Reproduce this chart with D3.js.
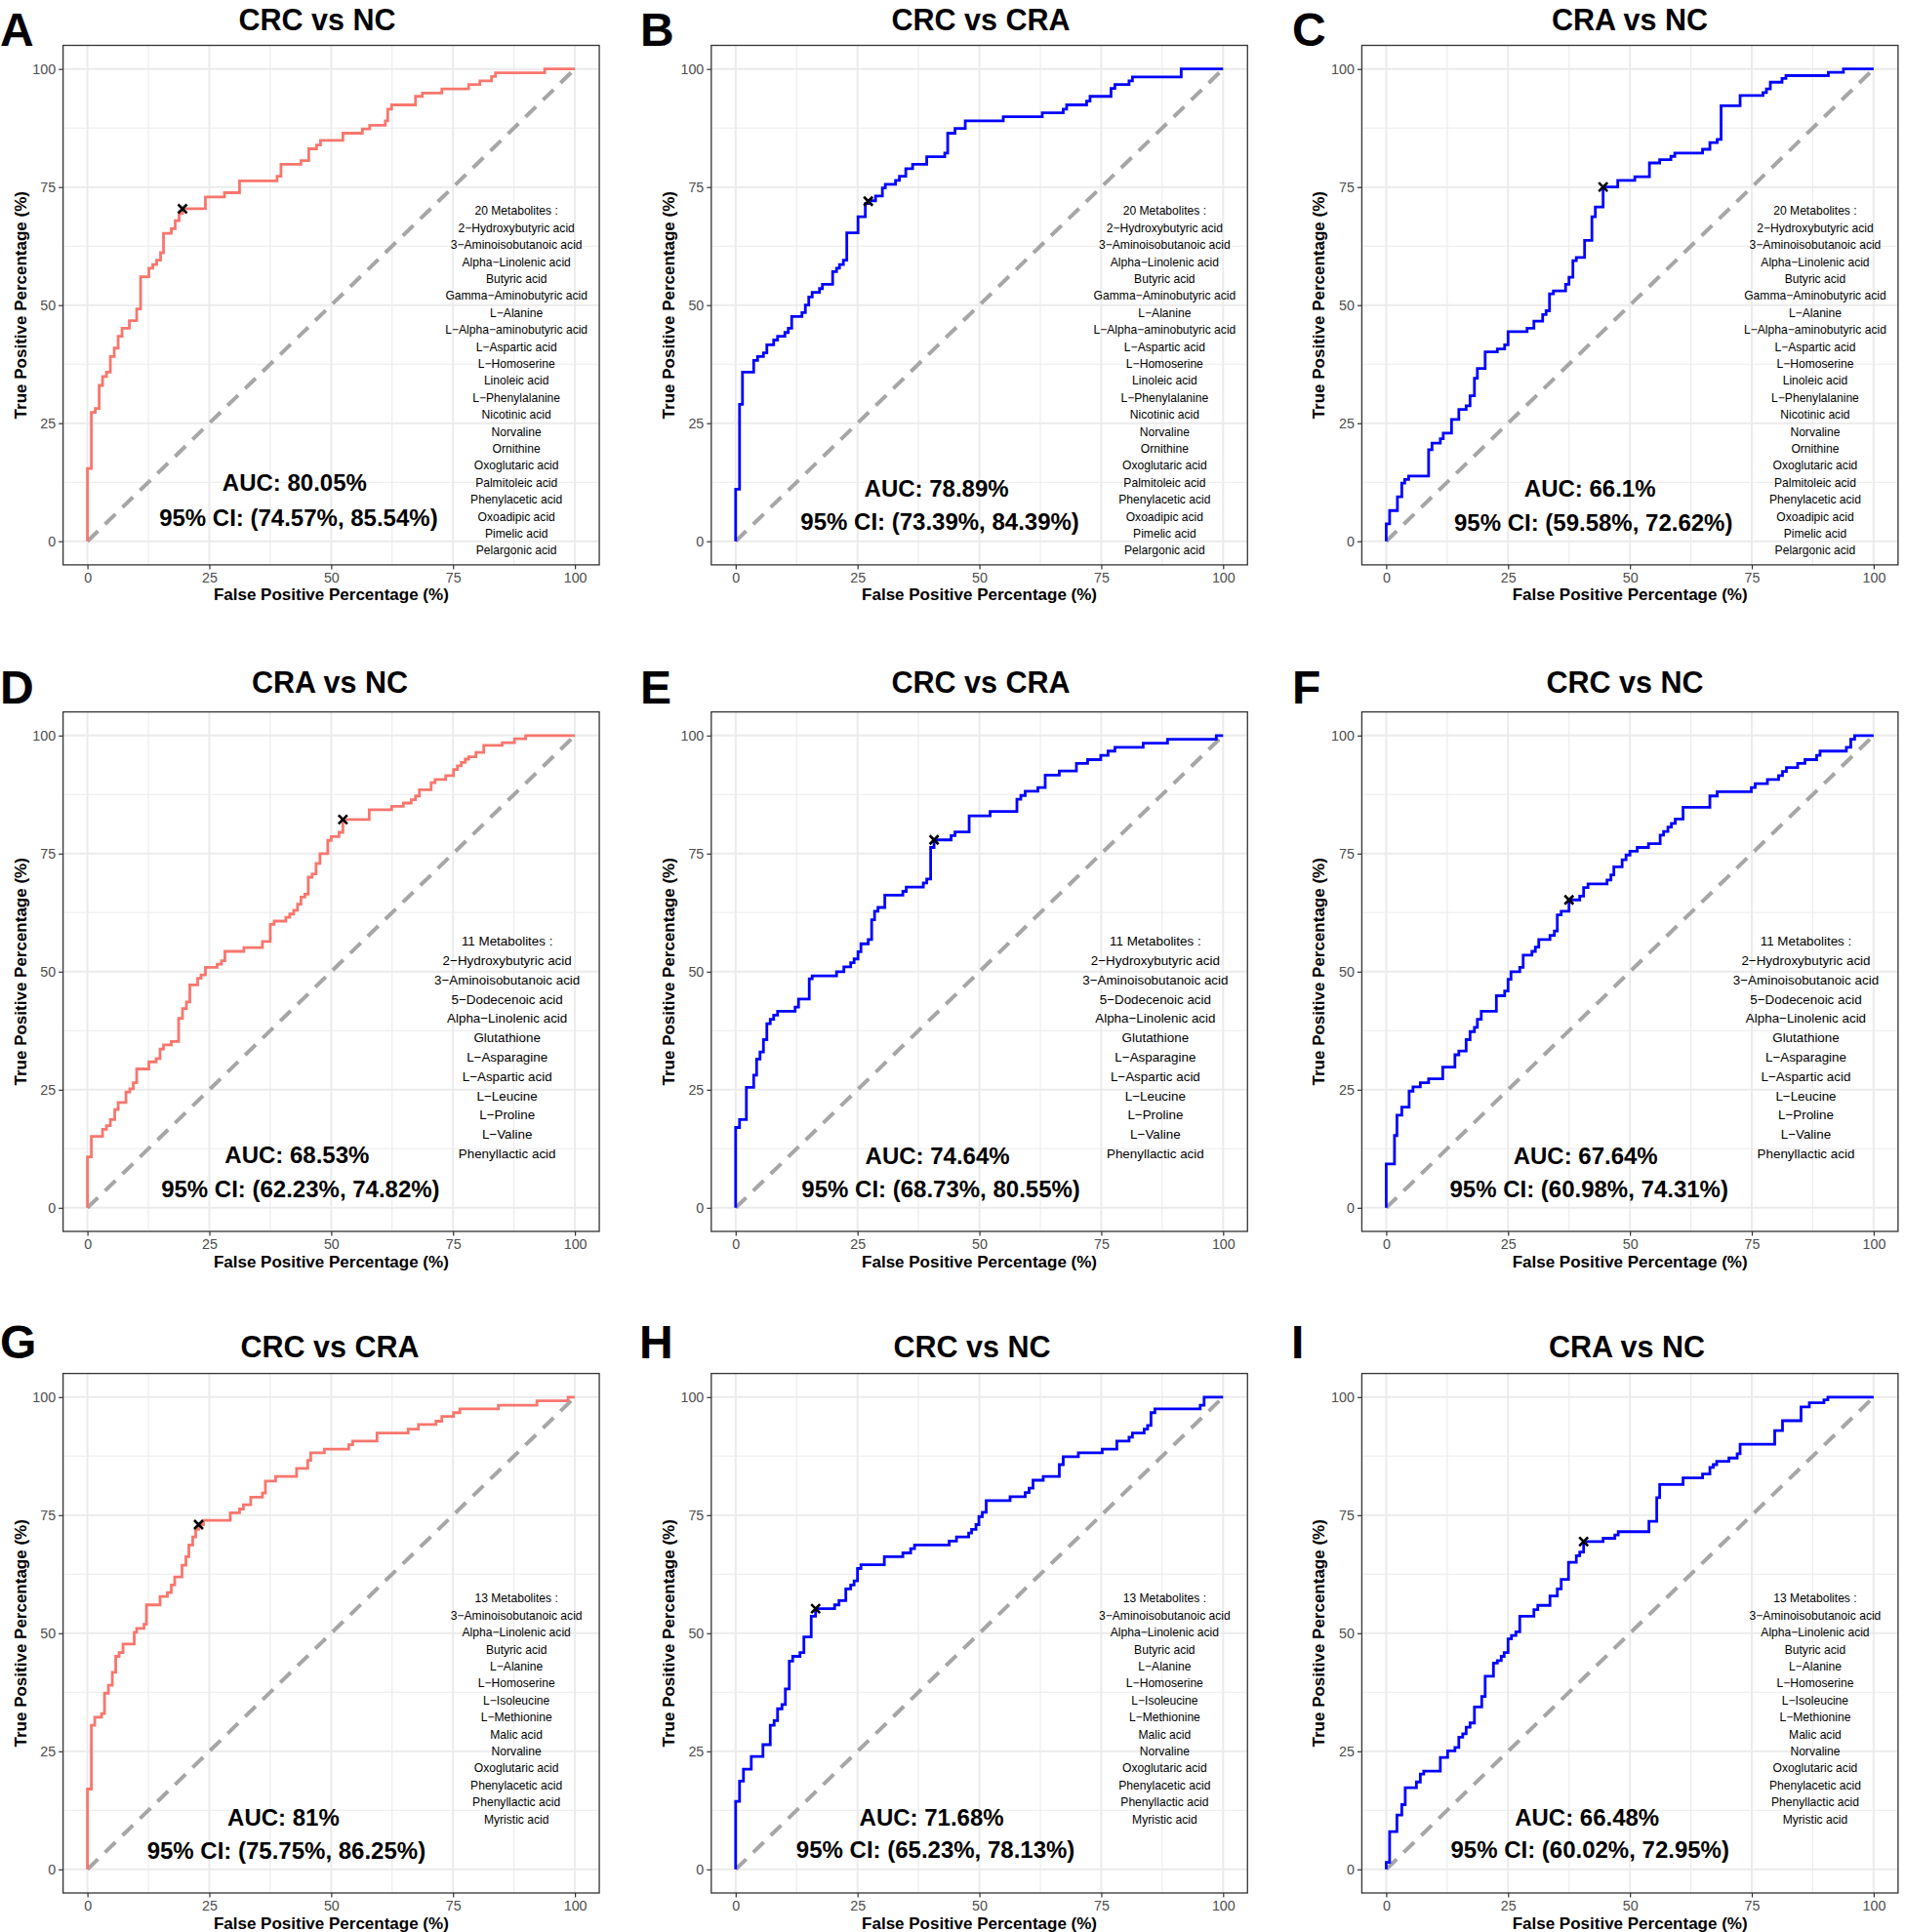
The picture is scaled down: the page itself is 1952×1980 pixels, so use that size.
<!DOCTYPE html>
<html>
<head>
<meta charset="utf-8">
<script src="https://cdn.jsdelivr.net/npm/d3@7"></script>
<style>
  body { margin: 0; background: #fff; }
  svg { display: block; }
</style>
</head>
<body>
<script>
// ---- data ----
const letters = ["A", "B", "C", "D", "E", "F", "G", "H", "I"];
const titles = ["CRC vs NC", "CRC vs CRA", "CRA vs NC",
                "CRA vs NC", "CRC vs CRA", "CRC vs NC",
                "CRC vs CRA", "CRC vs NC", "CRA vs NC"];
const aucLabels = ["AUC: 80.05%", "AUC: 78.89%", "AUC: 66.1%",
                   "AUC: 68.53%", "AUC: 74.64%", "AUC: 67.64%",
                   "AUC: 81%", "AUC: 71.68%", "AUC: 66.48%"];
const ciLabels = ["95% CI: (74.57%, 85.54%)", "95% CI: (73.39%, 84.39%)", "95% CI: (59.58%, 72.62%)",
                  "95% CI: (62.23%, 74.82%)", "95% CI: (68.73%, 80.55%)", "95% CI: (60.98%, 74.31%)",
                  "95% CI: (75.75%, 86.25%)", "95% CI: (65.23%, 78.13%)", "95% CI: (60.02%, 72.95%)"];
const lineColors = ["#F8766D", "#0000FF", "#0000FF",
                    "#F8766D", "#0000FF", "#0000FF",
                    "#F8766D", "#0000FF", "#0000FF"];

const metabolites20 = ["20 Metabolites :", "2−Hydroxybutyric acid", "3−Aminoisobutanoic acid",
  "Alpha−Linolenic acid", "Butyric acid", "Gamma−Aminobutyric acid", "L−Alanine",
  "L−Alpha−aminobutyric acid", "L−Aspartic acid", "L−Homoserine", "Linoleic acid",
  "L−Phenylalanine", "Nicotinic acid", "Norvaline", "Ornithine", "Oxoglutaric acid",
  "Palmitoleic acid", "Phenylacetic acid", "Oxoadipic acid", "Pimelic acid", "Pelargonic acid"];
const metabolites11 = ["11 Metabolites :", "2−Hydroxybutyric acid", "3−Aminoisobutanoic acid",
  "5−Dodecenoic acid", "Alpha−Linolenic acid", "Glutathione", "L−Asparagine",
  "L−Aspartic acid", "L−Leucine", "L−Proline", "L−Valine", "Phenyllactic acid"];
const metabolites13 = ["13 Metabolites :", "3−Aminoisobutanoic acid", "Alpha−Linolenic acid",
  "Butyric acid", "L−Alanine", "L−Homoserine", "L−Isoleucine", "L−Methionine",
  "Malic acid", "Norvaline", "Oxoglutaric acid", "Phenylacetic acid",
  "Phenyllactic acid", "Myristic acid"];
const panelMetabolites = [metabolites20, metabolites20, metabolites20,
                          metabolites11, metabolites11, metabolites11,
                          metabolites13, metabolites13, metabolites13];

// best cut-off points (FPR %, TPR %)
const cutoffs = [[19.5, 70.4], [27.2, 72.0], [44.5, 75.0],
                 [52.4, 82.2], [40.7, 77.9], [37.5, 65.2],
                 [22.8, 73.0], [16.4, 55.2], [40.5, 69.4]];

// ROC steps: at FPR x the TPR rises to y (both %)
const rocA = [[0,15.4],[0.8,27.3],[1.6,28.1],[2.4,33.0],[3.1,34.9],[3.9,35.8],[4.7,39.1],[5.5,40.9],
  [6.3,43.4],[7.1,45.1],[8.6,46.7],[10.1,49.2],[10.9,56.0],[12.6,57.8],[13.4,58.6],[14.2,59.5],
  [15.0,61.1],[15.6,65.2],[17.2,66.2],[18.0,67.9],[18.8,69.4],[19.5,70.4],[24.2,72.9],[28.1,73.8],
  [31.2,76.3],[38.9,77.3],[39.7,79.8],[43.8,80.6],[45.4,83.1],[47.0,83.9],[47.8,84.9],[52.4,86.4],
  [56.4,87.3],[57.9,88.1],[61.1,89.0],[61.6,91.5],[62.4,92.4],[67.3,94.2],[68.7,94.9],[72.7,95.8],
  [78.2,96.7],[80.5,97.5],[82.9,98.4],[83.7,99.2],[93.8,100],[100,100]];
const rocB = [[0,11.0],[0.8,29.0],[1.4,35.8],[3.7,38.3],[4.5,39.1],[5.7,39.9],[6.4,41.6],[7.8,42.6],
  [8.6,43.4],[10.1,44.2],[10.8,45.1],[11.5,47.6],[13.6,48.4],[14.3,50.0],[15.0,51.7],[15.7,52.7],
  [17.2,53.5],[17.8,54.4],[19.9,57.1],[20.7,57.8],[21.3,58.6],[22.1,59.5],[22.8,65.3],[25.1,68.7],
  [26.6,71.5],[27.2,72.1],[28.7,73.1],[30.1,74.8],[30.7,75.6],[32.8,76.4],[33.6,77.3],[34.9,78.9],
  [36.3,79.8],[39.2,81.4],[42.9,82.2],[43.5,86.4],[45.0,87.4],[47.1,89.0],[54.9,89.9],[62.9,90.7],
  [67.2,91.5],[67.9,92.4],[72.0,93.2],[72.7,94.2],[77.0,95.9],[77.8,96.7],[80.7,97.5],[81.4,98.3],
  [91.4,100],[100,100]];
const rocC = [[0,3.7],[0.7,6.5],[2.3,9.4],[3.2,12.3],[3.8,13.1],[4.6,13.8],[8.7,19.4],[9.4,20.8],
  [11.1,21.7],[11.7,22.9],[13.4,25.8],[14.9,27.9],[16.4,28.7],[17.2,30.8],[18.1,34.5],[18.7,36.6],
  [20.3,40.1],[22.8,40.7],[24.3,41.6],[25.0,44.4],[28.9,45.1],[30.3,46.6],[32.1,48.0],[32.8,48.8],
  [33.5,52.4],[34.3,53.0],[36.8,54.4],[37.5,55.9],[38.3,59.4],[39.0,60.1],[40.7,63.7],[42.2,68.7],
  [42.9,70.8],[44.5,75.0],[47.5,76.4],[51.0,77.2],[54.0,80.1],[56.1,80.8],[58.4,81.5],[59.2,82.2],
  [64.9,83.0],[66.4,84.4],[67.9,85.1],[68.7,92.2],[72.6,94.4],[77.3,95.0],[78.0,95.8],[78.8,97.2],
  [81.2,98.0],[82.0,98.6],[90.7,99.3],[93.8,100],[100,100]];
const rocD = [[0,10.8],[0.8,15.1],[3.1,16.6],[3.9,17.4],[4.7,18.7],[5.6,20.8],[6.3,22.3],[7.9,24.5],
  [8.7,25.2],[9.4,26.5],[10.1,29.4],[12.6,30.9],[14.1,31.6],[14.9,33.6],[15.6,34.5],[17.2,35.2],
  [18.7,40.1],[19.5,42.2],[20.3,43.6],[21.0,47.2],[22.6,48.6],[23.3,49.3],[24.2,50.9],[26.6,51.6],
  [27.5,52.3],[28.2,54.3],[32.1,55.1],[35.9,56.4],[37.5,60.0],[38.3,60.7],[40.7,61.5],[41.5,62.2],
  [42.3,63.0],[43.1,64.3],[43.8,65.8],[44.6,66.4],[45.3,70.0],[46.1,70.7],[46.9,72.9],[47.7,75.0],
  [49.3,77.8],[50.0,78.6],[51.6,79.5],[52.4,82.2],[57.8,84.3],[62.4,85.0],[64.8,85.7],[66.4,86.4],
  [67.3,87.2],[68.1,88.5],[70.5,90.0],[71.3,90.7],[73.5,91.5],[75.1,92.8],[75.9,93.6],[76.7,94.3],
  [77.5,95.0],[78.2,95.5],[79.7,96.4],[81.3,97.9],[85.1,98.5],[87.6,99.3],[89.9,100],[100,100]];
const rocE = [[0,17.0],[0.8,18.7],[2.2,25.5],[3.7,28.1],[4.3,31.5],[5.0,33.0],[5.7,35.6],[6.4,39.0],
  [7.1,39.9],[7.8,40.8],[8.6,41.6],[12.2,42.5],[12.9,44.2],[15.1,48.5],[15.7,49.1],[20.7,50.0],
  [22.2,51.0],[23.6,51.9],[24.3,52.7],[25.1,54.2],[25.7,55.9],[27.2,56.8],[27.9,61.0],[28.5,62.8],
  [29.2,63.6],[30.6,66.2],[34.3,67.0],[35.0,67.9],[38.5,68.8],[39.2,69.6],[40.0,76.3],[40.7,77.9],
  [44.2,78.8],[45.0,79.6],[47.9,83.0],[52.2,83.9],[57.7,86.5],[58.5,87.3],[59.4,88.2],[62.0,89.0],
  [63.5,91.6],[66.4,92.5],[69.9,94.1],[72.2,94.9],[74.9,95.8],[76.4,96.7],[77.8,97.5],[83.6,98.4],
  [88.6,99.2],[98.6,100],[100,100]];
const rocF = [[0,9.3],[1.7,15.3],[2.2,19.6],[3.2,21.3],[4.7,24.7],[5.5,25.6],[7.0,26.5],[8.7,27.3],
  [11.6,29.8],[14.1,32.4],[14.9,33.2],[16.4,35.6],[17.2,37.3],[18.1,38.2],[18.7,39.9],[19.5,41.6],
  [22.6,44.9],[24.3,45.9],[25.0,48.4],[25.6,50.0],[27.4,50.9],[28.1,53.5],[29.9,54.3],[30.6,55.2],
  [31.3,56.8],[33.6,57.7],[34.5,58.6],[35.1,62.0],[35.9,62.8],[37.5,65.2],[39.7,66.0],[40.5,67.8],
  [41.4,68.6],[45.3,69.4],[46.1,70.5],[46.7,72.2],[48.4,73.7],[49.2,74.7],[50.0,75.5],[51.5,76.3],
  [53.8,77.1],[56.2,78.9],[56.9,79.7],[57.8,80.6],[58.5,81.4],[59.3,82.3],[60.9,84.8],[66.4,87.2],
  [67.9,88.1],[74.9,89.0],[75.7,89.8],[78.2,90.7],[80.5,91.5],[81.3,92.4],[82.1,93.2],[84.4,94.1],
  [85.9,94.9],[88.3,95.8],[89.0,96.7],[94.4,97.5],[95.3,99.2],[96.1,100],[100,100]];
const rocG = [[0,17.0],[0.8,30.5],[1.5,32.2],[2.9,33.0],[3.5,37.3],[4.3,39.0],[5.1,41.7],[5.8,45.1],
  [6.5,45.9],[7.3,47.7],[9.6,50.2],[10.1,51.0],[11.6,51.9],[12.1,56.0],[14.9,57.8],[16.4,58.6],
  [17.2,60.2],[17.9,61.9],[19.4,64.4],[20.2,66.2],[20.8,68.7],[21.6,70.4],[22.2,72.0],[22.8,73.0],
  [23.8,73.9],[29.3,75.5],[31.2,76.3],[32.0,77.2],[33.5,78.8],[35.9,79.7],[36.5,82.2],[38.6,83.2],
  [42.9,84.9],[45.2,86.6],[45.8,88.2],[48.6,89.0],[53.6,89.9],[54.4,90.7],[59.4,92.4],[65.8,93.2],
  [67.9,94.2],[71.5,94.9],[72.7,95.9],[75.1,96.7],[76.4,97.5],[84.3,98.3],[92.2,99.2],[98.6,100],
  [100,100]];
const rocH = [[0,14.4],[0.8,18.7],[1.6,21.2],[3.2,23.9],[5.6,26.4],[7.1,30.5],[7.9,31.5],[8.6,34.0],
  [9.5,34.9],[10.2,38.2],[11.0,44.1],[11.7,45.1],[13.2,45.9],[14.0,49.2],[15.5,53.6],[16.4,55.2],
  [20.3,56.0],[21.2,56.9],[22.6,59.4],[23.6,60.2],[24.3,61.1],[25.0,63.7],[25.7,64.5],[30.5,66.2],
  [34.3,67.0],[35.9,67.9],[36.7,68.7],[43.8,69.5],[45.3,70.4],[47.8,71.2],[48.4,72.0],[49.3,73.0],
  [49.9,74.7],[50.6,75.6],[51.4,78.1],[56.3,78.9],[59.4,79.8],[60.2,80.7],[61.0,82.4],[63.1,83.2],
  [66.4,85.7],[67.2,87.4],[70.3,88.2],[75.2,89.0],[78.2,90.7],[80.7,91.5],[81.4,92.4],[83.8,93.2],
  [84.5,94.0],[85.2,96.7],[86.0,97.5],[95.3,98.3],[96.1,100],[100,100]];
const rocI = [[0,1.5],[0.7,8.0],[2.2,11.5],[3.2,13.7],[3.9,17.3],[6.2,18.5],[7.0,20.2],[7.7,20.8],
  [11.1,23.7],[12.6,25.1],[14.1,25.8],[14.9,28.0],[15.7,28.7],[16.4,30.1],[17.2,31.0],[18.1,34.4],
  [19.6,36.6],[20.3,40.9],[22.0,43.7],[22.8,44.2],[23.6,45.1],[24.2,45.9],[25.0,48.8],[25.7,49.5],
  [26.6,50.3],[27.4,53.6],[30.3,55.0],[31.1,55.9],[33.6,57.9],[35.1,59.4],[35.9,61.4],[37.4,65.0],
  [39.0,66.4],[39.7,67.2],[40.5,69.4],[44.5,70.1],[46.9,70.8],[47.6,71.5],[53.9,73.7],[55.5,78.7],
  [56.1,81.5],[60.9,82.9],[64.9,83.7],[66.4,85.1],[67.1,85.7],[67.8,86.4],[70.3,87.1],[72.0,88.0],
  [72.6,90.0],[79.7,92.9],[81.3,95.0],[85.1,97.9],[86.8,98.8],[89.8,99.4],[90.6,100],[100,100]];
const rocCurves = [rocA, rocB, rocC, rocD, rocE, rocF, rocG, rocH, rocI];

const majorTicks = [0, 25, 50, 75, 100];
const minorTicks = [12.5, 37.5, 62.5, 87.5];

// ---- layout ----
const width = 1952, height = 1980;
const colX0 = [89.6, 753.8, 1420.4];     // pixel of FPR = 0
const rowY100 = [70.7, 753.8, 1431.8];   // pixel of TPR = 100
const plotW = 499.5, plotH = 484;
const titleX = [325, 1005, 1670, 338, 1005, 1665, 338, 996, 1667];
const titleY = [31, 710, 1391];
const letterX = [0, 656, 1324, 0, 656, 1324, 0, 655, 1323];
const letterY = [46.5, 721, 1392];
// annotation anchors in data units (text centre)
const aucPos = [[42.5, 12.4], [41.2, 11.3], [41.8, 11.1], [43.0, 11.2], [41.4, 11.0],
                [40.9, 11.0], [40.2, 11.0], [40.2, 11.0], [41.2, 11.0]];
const ciPos = [[43.3, 5.1], [41.9, 4.2], [42.5, 4.0], [43.7, 3.9], [42.1, 3.9],
               [41.6, 3.9], [40.8, 4.0], [41.0, 4.1], [41.8, 4.1]];
const font = "'Liberation Sans', Arial, Helvetica, sans-serif";

const svg = d3.select("body").append("svg")
    .attr("width", width)
    .attr("height", height)
    .style("font-family", font);

svg.append("rect").attr("width", width).attr("height", height).attr("fill", "white");

for (let p = 0; p < 9; p++) {
    const col = p % 3, row = Math.floor(p / 3);
    const x = d3.scaleLinear().domain([0, 100]).range([colX0[col], colX0[col] + plotW]);
    const y = d3.scaleLinear().domain([0, 100]).range([rowY100[row] + plotH, rowY100[row]]);
    const left = x(-5), right = x(105), top = y(105), bottom = y(-5);
    const g = svg.append("g").attr("class", "panel");

    // grid
    for (const t of minorTicks) {
        g.append("line").attr("x1", x(t)).attr("x2", x(t)).attr("y1", top).attr("y2", bottom)
            .attr("stroke", "#ebebeb").attr("stroke-width", 1.1);
        g.append("line").attr("x1", left).attr("x2", right).attr("y1", y(t)).attr("y2", y(t))
            .attr("stroke", "#ebebeb").attr("stroke-width", 1.1);
    }
    for (const t of majorTicks) {
        g.append("line").attr("x1", x(t)).attr("x2", x(t)).attr("y1", top).attr("y2", bottom)
            .attr("stroke", "#ebebeb").attr("stroke-width", 2);
        g.append("line").attr("x1", left).attr("x2", right).attr("y1", y(t)).attr("y2", y(t))
            .attr("stroke", "#ebebeb").attr("stroke-width", 2);
    }

    // diagonal reference
    g.append("line")
        .attr("x1", x(0)).attr("y1", y(0)).attr("x2", x(100)).attr("y2", y(100))
        .attr("stroke", "#a6a6a6").attr("stroke-width", 4)
        .attr("stroke-dasharray", "15,10");

    // ROC step curve
    const pts = [[0, 0]].concat(rocCurves[p]);
    g.append("path")
        .attr("d", d3.line().x(d => x(d[0])).y(d => y(d[1])).curve(d3.curveStepAfter)(pts))
        .attr("fill", "none")
        .attr("stroke", lineColors[p])
        .attr("stroke-width", 2.8);

    // best cut-off marker
    const [cx, cy] = [x(cutoffs[p][0]), y(cutoffs[p][1])];
    const s = 4.5;
    g.append("path")
        .attr("d", `M${cx - s},${cy - s}L${cx + s},${cy + s}M${cx - s},${cy + s}L${cx + s},${cy - s}`)
        .attr("stroke", "black").attr("stroke-width", 2.6);

    // AUC annotations
    g.append("text").attr("x", x(aucPos[p][0])).attr("y", y(aucPos[p][1]) + 8.5)
        .attr("text-anchor", "middle").attr("font-weight", "bold").attr("font-size", 24)
        .text(aucLabels[p]);
    g.append("text").attr("x", x(ciPos[p][0])).attr("y", y(ciPos[p][1]) + 8.5)
        .attr("text-anchor", "middle").attr("font-weight", "bold").attr("font-size", 24)
        .text(ciLabels[p]);

    // metabolite list
    const names = panelMetabolites[p];
    const big = names.length === 12;
    const fs = big ? 13.4 : 12.1;
    const lh = big ? 19.8 : 17.4;
    const listX = x(big ? 86.1 : 88);
    const firstY = y(34) - (names.length - 1) * lh / 2 + fs * 0.36;
    g.append("g").selectAll("text").data(names).join("text")
        .attr("x", listX)
        .attr("y", (d, i) => firstY + i * lh)
        .attr("text-anchor", "middle")
        .attr("font-size", fs)
        .attr("fill", "black")
        .text(d => d);

    // panel border
    g.append("rect").attr("x", left).attr("y", top)
        .attr("width", right - left).attr("height", bottom - top)
        .attr("fill", "none").attr("stroke", "#333333").attr("stroke-width", 1.3);

    // axes
    const xAxis = g.append("g").attr("transform", `translate(0,${bottom})`)
        .call(d3.axisBottom(x).tickValues(majorTicks).tickSize(4.5).tickPadding(3));
    const yAxis = g.append("g").attr("transform", `translate(${left},0)`)
        .call(d3.axisLeft(y).tickValues(majorTicks).tickSize(4.5).tickPadding(3));
    for (const ax of [xAxis, yAxis]) {
        ax.select(".domain").remove();
        ax.selectAll(".tick line").attr("stroke", "#333333").attr("stroke-width", 1.2);
        ax.selectAll(".tick text").attr("fill", "#4d4d4d").attr("font-size", 14.3)
            .attr("font-family", font);
    }

    // axis titles
    g.append("text").attr("x", (left + right) / 2).attr("y", bottom + 36.5)
        .attr("text-anchor", "middle").attr("font-weight", "bold").attr("font-size", 17)
        .text("False Positive Percentage (%)");
    g.append("text")
        .attr("transform", `translate(${left - 38},${(top + bottom) / 2}) rotate(-90)`)
        .attr("text-anchor", "middle").attr("font-weight", "bold").attr("font-size", 17)
        .text("True Positive Percentage (%)");

    // title and panel letter
    g.append("text").attr("x", titleX[p]).attr("y", titleY[row])
        .attr("text-anchor", "middle").attr("font-weight", "bold").attr("font-size", 30.5)
        .text(titles[p]);
    g.append("text").attr("x", letterX[p]).attr("y", letterY[row])
        .attr("font-weight", "bold").attr("font-size", 48)
        .text(letters[p]);
}
</script>
</body>
</html>
